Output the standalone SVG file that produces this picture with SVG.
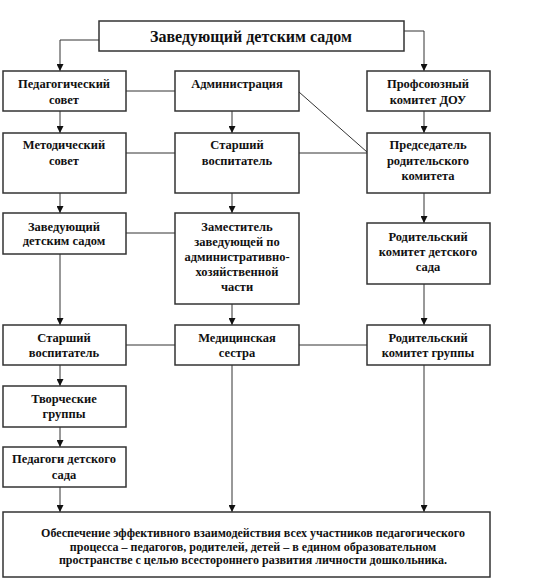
<svg xmlns="http://www.w3.org/2000/svg" width="553" height="581" viewBox="0 0 553 581">
<defs>
<marker id="ah" viewBox="0 0 8 8" refX="8" refY="4" markerWidth="7" markerHeight="7" markerUnits="userSpaceOnUse" orient="auto">
<path d="M0,0 L8,4 L0,8 z" fill="#111"/>
</marker>
<style>
.box{fill:#fff;stroke:#333;stroke-width:1.5}
.t{font-family:'Liberation Serif','DejaVu Serif',serif;font-weight:bold;font-size:12.5px;fill:#111;text-anchor:middle}
.title{font-size:16px}
.small{font-size:12px}
.ln{stroke:#333;stroke-width:1;fill:none}
.ar{stroke:#333;stroke-width:1;fill:none;marker-end:url(#ah)}
</style>
</defs>
<rect width="553" height="581" fill="#fff"/>
<g id="connectors">
<path class="ar" d="M99,40 H60 V71"/>
<path class="ar" d="M404,31 H424 V71"/>
<path class="ln" d="M126,91 H175"/>
<path class="ln" d="M299,92 L367,152"/>
<path class="ar" d="M60,111 V133"/>
<path class="ar" d="M232,111 V133"/>
<path class="ar" d="M424,111 V133"/>
<path class="ln" d="M126,153 H175"/>
<path class="ln" d="M299,153 H367"/>
<path class="ar" d="M60,193 V213"/>
<path class="ar" d="M232,193 V213"/>
<path class="ar" d="M424,193 V223"/>
<path class="ln" d="M126,233 H175"/>
<path class="ar" d="M60,254 V325"/>
<path class="ar" d="M232,304 V325"/>
<path class="ar" d="M424,284 V325"/>
<path class="ln" d="M126,345 H175"/>
<path class="ln" d="M299,345 H367"/>
<path class="ar" d="M60,365 V386"/>
<path class="ar" d="M60,427 V447"/>
<path class="ar" d="M60,487 V512"/>
<path class="ar" d="M232,365 V512"/>
<path class="ar" d="M424,365 V512"/>
</g>
<g id="head">
<rect class="box" x="99" y="21" width="305" height="30"/>
<text class="t title" x="251" y="41.5">Заведующий детским садом</text>
</g>
<g id="ped-sovet">
<rect class="box" x="3" y="71" width="123" height="40"/>
<text class="t" x="64" y="88">Педагогический</text>
<text class="t" x="64" y="104">совет</text>
</g>
<g id="admin">
<rect class="box" x="175" y="71" width="124" height="40"/>
<text class="t" x="237" y="88">Администрация</text>
</g>
<g id="profsoyuz">
<rect class="box" x="367" y="71" width="123" height="40"/>
<text class="t" x="428" y="88">Профсоюзный</text>
<text class="t" x="428" y="104">комитет ДОУ</text>
</g>
<g id="metod-sovet">
<rect class="box" x="3" y="133" width="123" height="60"/>
<text class="t" x="64" y="149">Методический</text>
<text class="t" x="64" y="165">совет</text>
</g>
<g id="starshiy1">
<rect class="box" x="175" y="133" width="124" height="60"/>
<text class="t" x="237" y="149">Старший</text>
<text class="t" x="237" y="165">воспитатель</text>
</g>
<g id="predsedatel">
<rect class="box" x="367" y="133" width="123" height="60"/>
<text class="t" x="428" y="149">Председатель</text>
<text class="t" x="428" y="165">родительского</text>
<text class="t" x="428" y="180">комитета</text>
</g>
<g id="zaveduyushchiy">
<rect class="box" x="3" y="213" width="123" height="41"/>
<text class="t" x="64" y="231">Заведующий</text>
<text class="t" x="64" y="245">детским садом</text>
</g>
<g id="zamestitel">
<rect class="box" x="175" y="213" width="124" height="91"/>
<text class="t" x="237" y="231">Заместитель</text>
<text class="t" x="237" y="246">заведующей по</text>
<text class="t" x="237" y="261">административно-</text>
<text class="t" x="237" y="276">хозяйственной</text>
<text class="t" x="237" y="291">части</text>
</g>
<g id="rod-kom-sada">
<rect class="box" x="367" y="223" width="123" height="61"/>
<text class="t" x="428" y="241">Родительский</text>
<text class="t" x="428" y="256">комитет детского</text>
<text class="t" x="428" y="271">сада</text>
</g>
<g id="starshiy2">
<rect class="box" x="3" y="325" width="123" height="40"/>
<text class="t" x="64" y="342">Старший</text>
<text class="t" x="64" y="357">воспитатель</text>
</g>
<g id="medsestra">
<rect class="box" x="175" y="325" width="124" height="40"/>
<text class="t" x="237" y="342">Медицинская</text>
<text class="t" x="237" y="357">сестра</text>
</g>
<g id="rod-kom-gruppy">
<rect class="box" x="367" y="325" width="123" height="40"/>
<text class="t" x="428" y="342">Родительский</text>
<text class="t" x="428" y="357">комитет группы</text>
</g>
<g id="tvorcheskie">
<rect class="box" x="3" y="386" width="123" height="41"/>
<text class="t" x="64" y="403">Творческие</text>
<text class="t" x="64" y="418">группы</text>
</g>
<g id="pedagogi">
<rect class="box" x="3" y="447" width="123" height="40"/>
<text class="t" x="64" y="463">Педагоги детского</text>
<text class="t" x="64" y="479">сада</text>
</g>
<g id="goal">
<rect class="box" x="3" y="512" width="487" height="65"/>
<text class="t small" x="253" y="537">Обеспечение эффективного взаимодействия всех участников педагогического</text>
<text class="t small" x="253" y="551">процесса – педагогов, родителей, детей – в едином образовательном</text>
<text class="t small" x="253" y="564">пространстве с целью всестороннего развития личности дошкольника.</text>
</g>
</svg>
